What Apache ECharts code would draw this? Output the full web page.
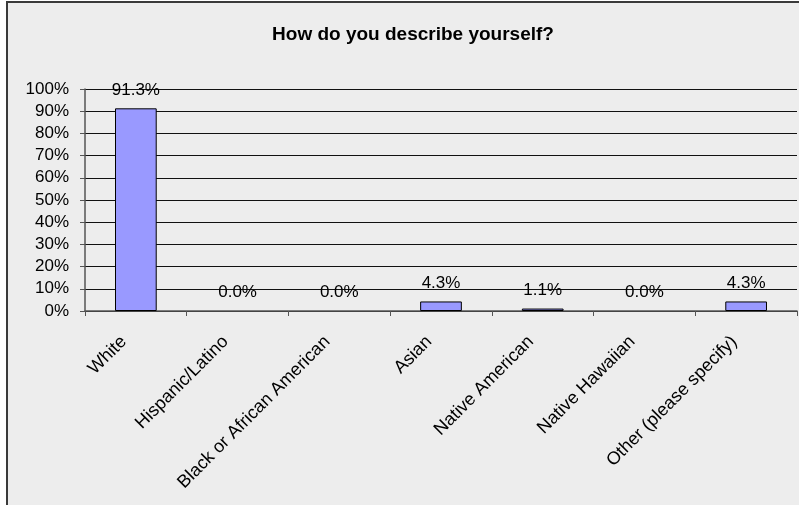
<!DOCTYPE html>
<html>
<head>
<meta charset="utf-8">
<script src="https://cdn.jsdelivr.net/npm/echarts@6/dist/echarts.min.js"></script>
<style>
  html, body { margin: 0; padding: 0; background: #ffffff; }
  #frame { position: absolute; left: 6px; top: 1px; width: 793px; height: 504px;
           background: #EDEDED; border-left: 2px solid #3a3a3a; border-top: 2px solid #3a3a3a; box-sizing: border-box; }
  #chart { position: absolute; left: 0; top: 0; width: 799px; height: 505px; }
</style>
</head>
<body>
<div id="frame"></div>
<div id="chart"></div>
<script>
const titleText = 'How do you describe yourself?';
const categories = ['White', 'Hispanic/Latino', 'Black or African American', 'Asian', 'Native American', 'Native Hawaiian', 'Other (please specify)'];
const percentValues = [91.3, 0.0, 0.0, 4.3, 1.1, 0.0, 4.3];

const font = "'Liberation Sans', Arial, sans-serif";
const chart = echarts.init(document.getElementById('chart'), null, { renderer: 'canvas' });
chart.setOption({
  animation: false,
  backgroundColor: 'transparent',
  title: {
    text: titleText,
    left: 408,
    top: 20,
    textAlign: 'center',
    textStyle: { fontFamily: font, fontSize: 19, fontWeight: 'bold', color: '#000' }
  },
  grid: { left: 85, right: 2, top: 89, bottom: 194, containLabel: false },
  xAxis: {
    type: 'category',
    data: categories,
    boundaryGap: true,
    axisLine: { show: true, lineStyle: { color: '#555', width: 1.5 } },
    axisTick: { show: true, length: 5, alignWithLabel: false, lineStyle: { color: '#555' } },
    axisLabel: { rotate: 45, interval: 0, margin: 16, padding: [0, 17, 0, 0],
                 fontFamily: font, fontSize: 18, color: '#000' }
  },
  yAxis: {
    type: 'value',
    min: 0, max: 100, interval: 10,
    axisLine: { show: true, lineStyle: { color: '#555', width: 1.5 } },
    axisTick: { show: true, length: 5, lineStyle: { color: '#555' } },
    axisLabel: { formatter: '{value}%', margin: 16, fontFamily: font, fontSize: 17, color: '#000' },
    splitLine: { show: true, lineStyle: { color: '#111', width: 1 } }
  },
  series: [{
    type: 'bar',
    data: percentValues.map(v => ({ value: v, itemStyle: { borderWidth: v === 0 ? 0 : 1 } })),
    barWidth: '41%',
    itemStyle: { color: '#9999FF', borderColor: '#000', borderWidth: 1 },
    label: {
      show: true, position: 'top', distance: 10,
      formatter: p => p.value.toFixed(1) + '%',
      fontFamily: font, fontSize: 17, color: '#000'
    }
  }]
});
</script>
</body>
</html>
